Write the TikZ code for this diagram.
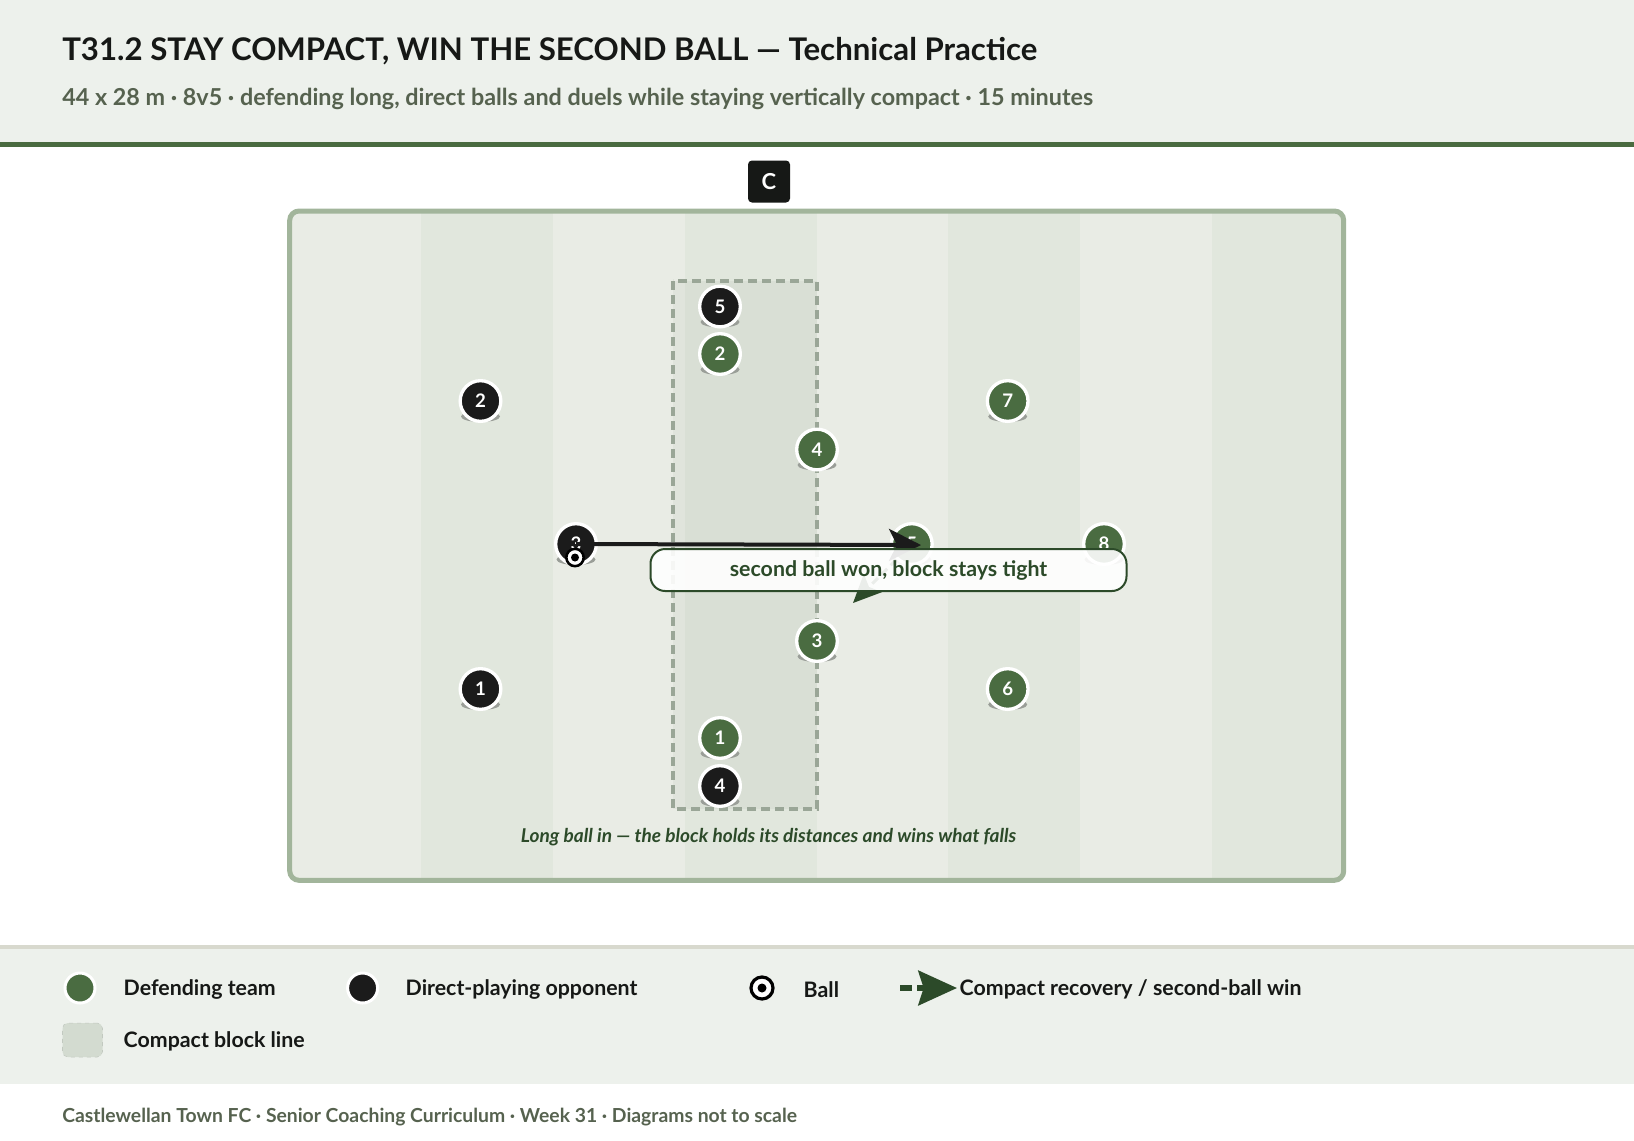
\documentclass[tikz,border=0pt]{standalone}
\usepackage{fontspec}
\setmainfont{Lato}
\usetikzlibrary{arrows.meta}
\definecolor{hdrbg}{HTML}{EDF1EC}
\definecolor{hdrline}{HTML}{4A6B40}
\definecolor{legline}{HTML}{D8D9CE}
\definecolor{stripeA}{HTML}{E9ECE5}
\definecolor{stripeB}{HTML}{E1E7DD}
\definecolor{fieldline}{HTML}{A2B59B}
\definecolor{blockline}{HTML}{9AA697}
\definecolor{blockfill}{HTML}{A0AC9C}
\definecolor{defc}{HTML}{4A6C41}
\definecolor{oppc}{HTML}{1B1B1B}
\definecolor{dkgreen}{HTML}{2C4A29}
\definecolor{subc}{HTML}{56624F}
\definecolor{titc}{HTML}{161816}
\definecolor{shadowc}{HTML}{9A9E98}
\definecolor{legblock}{HTML}{D3DBD0}
\newcommand{\plyr}[5]{%
  \fill[shadowc] (#2,#3+15.5) ellipse [x radius=19.5, y radius=5.5];
  \node[player, fill=#4] (#1) at (#2,#3) {#5};
}
\begin{document}
\begin{tikzpicture}[x=0.75pt,y=-0.75pt,
  player/.style={circle, draw=white, line width=2.5pt, minimum size=30.5pt, inner sep=0pt, text=white, font=\bfseries\fontsize{14pt}{16pt}\selectfont},
  legplayer/.style={circle, draw=white, line width=2.25pt, minimum size=22.5pt, inner sep=0pt},
  legtext/.style={anchor=west, text=titc, font=\bfseries\fontsize{16pt}{18pt}\selectfont},
  ballring/.style={circle, fill=white, draw=black, inner sep=0pt},
]
\useasboundingbox (0,0) rectangle (1634,1140);
% header
\fill[hdrbg] (0,0) rectangle (1634,142);
\fill[hdrline] (0,142) rectangle (1634,147);
\node[anchor=base west, text=titc, font=\bfseries\fontsize{23.4pt}{27pt}\selectfont, inner sep=0pt] (title) at (62,60) {T31.2 STAY COMPACT, WIN THE SECOND BALL — Technical Practice};
\node[anchor=base west, text=subc, font=\bfseries\fontsize{17.5pt}{20pt}\selectfont, inner sep=0pt] (sub) at (62,105) {44 x 28 m · 8v5 · defending long, direct balls and duels while staying vertically compact · 15 minutes};
% coach
\node[fill=titc, rounded corners=3pt, minimum size=31.5pt, inner sep=0pt, text=white, font=\bfseries\fontsize{16.5pt}{18pt}\selectfont] (coach) at (769,181.5) {C};
% field
\begin{scope}
\clip[rounded corners=7pt] (289.7,211) rectangle (1343.7,880.3);
\foreach \i in {0,2,4,6} {\fill[stripeA] (289.7+131.75*\i,211) rectangle (289.7+131.75*\i+131.75,880.3);}
\foreach \i in {1,3,5,7} {\fill[stripeB] (289.7+131.75*\i,211) rectangle (289.7+131.75*\i+131.75,880.3);}
\end{scope}
\draw[fieldline, line width=3.75pt, rounded corners=7pt] (289.7,211) rectangle (1343.7,880.3);
% compact block
\fill[blockfill, fill opacity=0.12] (673,281) rectangle (817,809);
\draw[blockline, line width=2.6pt, dash pattern=on 6.5pt off 4pt] (673,281) rectangle (817,809);
% players
\plyr{o5}{720}{306.5}{oppc}{5}
\plyr{d2}{720}{354}{defc}{2}
\plyr{o2}{480.5}{401}{oppc}{2}
\plyr{d7}{1007.7}{401}{defc}{7}
\plyr{d4}{817}{449.5}{defc}{4}
\plyr{o3}{576}{544}{oppc}{3}
\plyr{d5}{911.8}{544}{defc}{5}
\plyr{d8}{1104}{544}{defc}{8}
\plyr{d3}{817}{641}{defc}{3}
\plyr{o1}{480.5}{689}{oppc}{1}
\plyr{d6}{1007.7}{689}{defc}{6}
\plyr{d1}{720}{738}{defc}{1}
\plyr{o4}{720}{786}{oppc}{4}
% arrows
\coordinate (win) at (921,545);
\coordinate (fall) at (853,603);
\draw[oppc, line width=3pt, -{Stealth[length=24pt,width=24pt,inset=6pt]}] (o3.center) -- (win);
\draw[dkgreen, line width=2.25pt, dash pattern=on 6pt off 3.75pt, -{Stealth[length=21pt,width=19pt,inset=4pt]}] (d5) -- (fall);
% ball
\node[ballring, line width=1.9pt, minimum size=13pt] (ball) at (575,557.5) {};
\fill[black] (ball.center) circle (4);
% label
\node[draw=dkgreen, line width=1.5pt, fill=white, fill opacity=0.9, text opacity=1, rounded corners=11pt, minimum width=357pt, minimum height=31.5pt, inner sep=0pt, text=dkgreen, font=\bfseries\fontsize{16pt}{18pt}\selectfont] (lbl) at (888.5,570) {second ball won, block stays tight};
% caption
\node[text=dkgreen, font=\bfseries\itshape\fontsize{14.3pt}{16pt}\selectfont, inner sep=0pt] (cap) at (768.6,837) {Long ball in — the block holds its distances and wins what falls};
% legend panel
\fill[hdrbg] (0,945) rectangle (1634,1084);
\fill[legline] (0,945) rectangle (1634,949);
\node[legplayer, fill=defc] (lg1) at (80,988) {};
\node[legtext] (lt1) at (119,989.5) {Defending team};
\node[legplayer, fill=oppc] (lg2) at (362.6,988) {};
\node[legtext] (lt2) at (401,989.5) {Direct-playing opponent};
\node[ballring, line width=2.4pt, minimum size=16.5pt] (lg3) at (762,988) {};
\fill[black] (lg3.center) circle (4.5);
\node[legtext] (lt3) at (799,989.5) {Ball};
\coordinate (la) at (900,988);
\coordinate (lb) at (957,988);
\draw[dkgreen, line width=4pt, dash pattern=on 9pt off 4pt, -{Stealth[length=29pt,width=26pt,inset=4pt]}] (la) -- (lb);
\node[legtext] (lt4) at (955,989.5) {Compact recovery / second-ball win};
\node[draw=legblock!80!gray, dashed, fill=legblock, rounded corners=4pt, minimum width=30pt, minimum height=25.5pt, inner sep=0pt] (lg5) at (82.5,1040) {};
\node[legtext] (lt5) at (119,1041.5) {Compact block line};
% footer
\node[anchor=base west, text=subc, font=\bfseries\fontsize{14.5pt}{17pt}\selectfont, inner sep=0pt] (foot) at (62,1122.5) {Castlewellan Town FC · Senior Coaching Curriculum · Week 31 · Diagrams not to scale};
\end{tikzpicture}
\end{document}
